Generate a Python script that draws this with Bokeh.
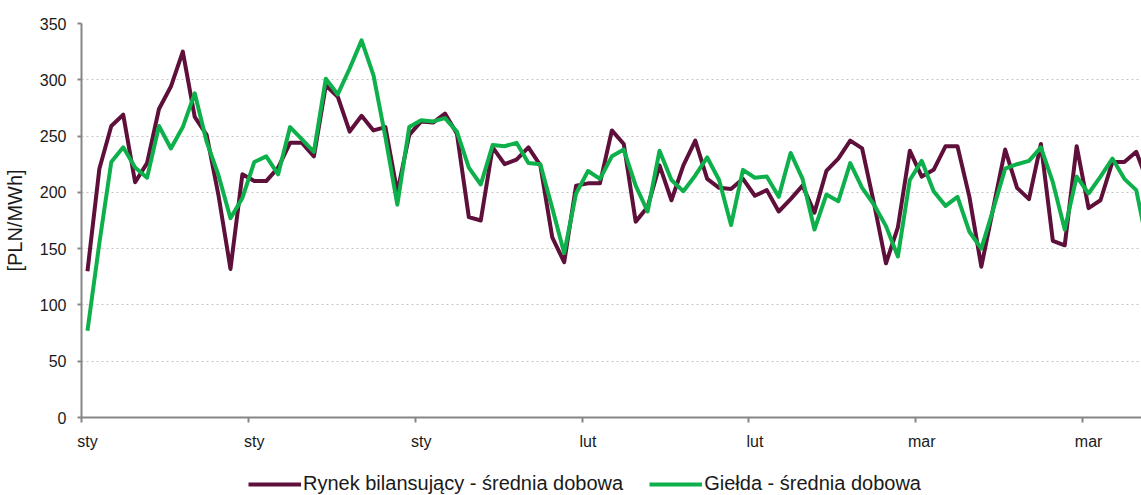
import pandas as pd
from bokeh.plotting import figure
from bokeh.layouts import column
from bokeh.models import FixedTicker, Legend, LegendItem, Range1d, ColumnDataSource
from bokeh.embed import file_html
from bokeh.resources import INLINE

# ---- data ----
dates = pd.date_range("2009-01-01", periods=90, freq="D")

rynek_bilansujacy = [
    130, 221, 259, 269, 209, 226, 274, 294, 325, 267,
    251, 197, 132, 216, 210, 210, 222, 244, 244, 232,
    295, 285, 254, 268, 255, 258, 200, 251, 263, 262,
    270, 252, 178, 175, 240, 225, 229, 240, 224, 160,
    138, 206, 208, 208, 255, 243, 174, 187, 224, 193,
    224, 246, 212, 204, 203, 212, 197, 202, 183, 194,
    206, 182, 219, 230, 246, 239, 190, 137, 169, 237,
    214, 220, 241, 241, 196, 134, 186, 238, 204, 194,
    243, 157, 153, 241, 186, 193, 227, 227, 236, 208,
]

gielda = [
    77, 155, 227, 240, 222, 213, 259, 239, 258, 288,
    245, 215, 177, 195, 227, 232, 216, 258, 247, 236,
    301, 287, 310, 335, 304, 249, 189, 258, 264, 263,
    266, 254, 222, 207, 242, 241, 244, 226, 225, 186,
    146, 199, 219, 212, 232, 238, 206, 183, 237, 211,
    201, 215, 231, 211, 171, 220, 213, 214, 196, 235,
    212, 167, 198, 192, 226, 204, 189, 170, 143, 211,
    228, 201, 188, 196, 165, 150, 185, 221, 225, 228,
    240, 209, 167, 214, 199, 214, 230, 212, 202, 150,
]

tick_days = [0, 14, 28, 42, 56, 70, 84]
tick_labels = ["sty", "sty", "sty", "lut", "lut", "mar", "mar"]
y_ticks = [0, 50, 100, 150, 200, 250, 300, 350]

series_names = ["Rynek bilansujący - średnia dobowa", "Giełda - średnia dobowa"]
series_colors = ["#5E0F3A", "#0DB04B"]

# day index, each value placed in the middle of its day
day_pos = [float((d - dates[0]).days) + 0.5 for d in dates]

src = ColumnDataSource(dict(x=day_pos, rb=rynek_bilansujacy, gi=gielda))

FONT = "Liberation Sans"
TXT = "#1a1a1a"
AXC = "#868686"

p = figure(
    width=1141, height=452,
    output_backend="svg", toolbar_location=None,
    x_range=Range1d(0, 88.94), y_range=Range1d(0, 350),
    min_border_left=80, min_border_right=0,
    min_border_top=23, min_border_bottom=34,
)
p.outline_line_color = None

# grid
p.xgrid.visible = False
p.ygrid.grid_line_color = "#c4c4c4"
p.ygrid.grid_line_dash = "2 3"
p.ygrid.grid_line_width = 1

# y axis
ya = p.yaxis[0]
ya.ticker = FixedTicker(ticks=y_ticks)
ya.axis_line_color = AXC
ya.axis_line_width = 2
ya.major_tick_line_color = AXC
ya.major_tick_line_width = 2
ya.major_tick_out = 4
ya.major_tick_in = 0
ya.minor_tick_line_color = None
ya.major_label_standoff = 11
ya.major_label_text_font = FONT
ya.major_label_text_font_size = "16px"
ya.major_label_text_color = TXT
ya.axis_label = "[PLN/MWh]"
ya.axis_label_text_font = FONT
ya.axis_label_text_font_size = "20px"
ya.axis_label_text_font_style = "normal"
ya.axis_label_text_color = TXT
ya.axis_label_standoff = 11

# x axis: tick marks at the start of each period (minor ticks),
# month labels centred on the first day (major ticks, no mark)
label_pos = [d + 0.5 for d in tick_days]
xa = p.xaxis[0]
xa.ticker = FixedTicker(ticks=label_pos, minor_ticks=tick_days)
xa.major_label_overrides = {lp: lab for lp, lab in zip(label_pos, tick_labels)}
xa.axis_line_color = AXC
xa.axis_line_width = 2
xa.major_tick_line_color = None
xa.major_tick_out = 0
xa.major_tick_in = 0
xa.minor_tick_line_color = AXC
xa.minor_tick_line_width = 2
xa.minor_tick_out = 5
xa.minor_tick_in = 0
xa.major_label_standoff = 10
xa.major_label_text_font = FONT
xa.major_label_text_font_size = "16px"
xa.major_label_text_color = TXT

r1 = p.line("x", "rb", source=src, line_color=series_colors[0], line_width=4, line_join="round")
r2 = p.line("x", "gi", source=src, line_color=series_colors[1], line_width=4, line_join="round")

# legend strip below the chart (proxy renderers share the data, but lie
# outside this strip's ranges so only their legend swatches show)
lg = figure(
    width=1141, height=43,
    output_backend="svg", toolbar_location=None,
    x_axis_type=None, y_axis_type=None,
    x_range=Range1d(0, 0.1), y_range=Range1d(0, 1),
    min_border=0,
)
lg.outline_line_color = None
lg.grid.visible = False
k1 = lg.line("x", "rb", source=src, line_color=series_colors[0], line_width=4)
k2 = lg.line("x", "gi", source=src, line_color=series_colors[1], line_width=4)

legend = Legend(
    items=[LegendItem(label=series_names[0], renderers=[k1]),
           LegendItem(label=series_names[1], renderers=[k2])],
    orientation="horizontal",
    location=(167, 0),
    glyph_width=53, glyph_height=20,
    label_standoff=2, spacing=26,
    padding=0, margin=0,
    border_line_color=None, background_fill_alpha=0,
    label_text_font=FONT, label_text_font_size="20px",
    label_text_color=TXT,
)
lg.add_layout(legend, "center")

layout = column(p, lg, spacing=0)
open("out.html", "w").write(file_html(layout, INLINE))
